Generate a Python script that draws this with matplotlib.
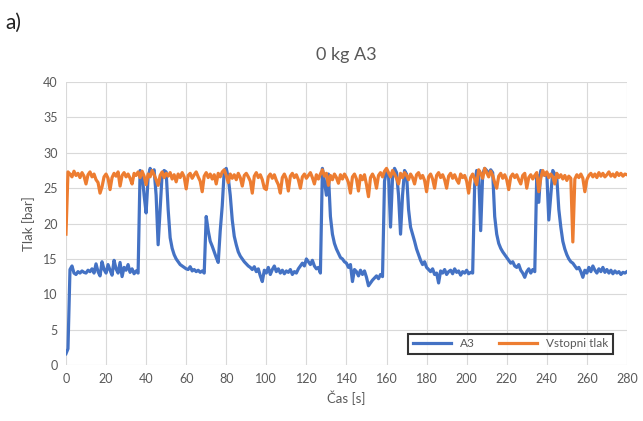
import numpy as np
import matplotlib
matplotlib.use("Agg")
import matplotlib.pyplot as plt

plt.rcParams["font.family"] = ["Lato", "DejaVu Sans"]

# Čas [s], vzorec vsako sekundo
cas = np.arange(0, 281)

# Tlak na A3 [bar]
tlak_a3 = [
    1.6, 2.3, 13.5, 14.0, 13.0, 12.8, 13.2, 13.0, 13.3, 13.1,
    13.0, 13.4, 13.2, 13.6, 13.0, 14.3, 13.2, 12.6, 14.6, 13.5,
    13.0, 14.2, 13.4, 12.7, 14.8, 13.6, 13.0, 14.5, 12.5, 13.8,
    13.4, 14.2, 13.1, 13.6, 12.9, 13.3, 13.0, 27.5, 27.0, 24.0,
    21.5, 26.5, 27.8, 27.2, 27.6, 24.0, 17.0, 22.0, 27.0, 27.5,
    27.3, 22.0, 18.0, 16.5, 15.6, 15.0, 14.6, 14.2, 14.0, 13.8,
    13.6, 13.5, 13.9, 13.3, 13.5, 13.2, 13.4, 13.1, 13.3, 13.0,
    21.0, 19.0, 17.5, 16.8, 16.0, 15.2, 14.5, 19.0, 22.5, 27.5,
    27.8, 26.5, 24.0, 20.5, 18.2, 17.0, 16.0, 15.4, 15.0, 14.6,
    14.3, 14.0, 13.8, 13.5, 13.9, 13.2, 13.6, 12.6, 11.8, 13.4,
    13.0, 13.8, 12.8, 13.5, 14.0, 13.2, 13.6, 13.0, 13.4, 12.9,
    13.3, 13.1, 13.5, 12.8, 13.2, 13.0, 13.6, 14.0, 14.4, 14.0,
    15.0, 14.6, 14.2, 14.8, 14.0, 13.6, 13.8, 13.0, 27.8, 26.0,
    24.0, 27.0, 21.0, 18.5, 17.2, 16.4, 15.8, 15.2, 15.0, 14.6,
    14.4, 13.8, 14.2, 11.8, 13.5, 13.2, 12.6, 13.4, 12.8, 13.3,
    12.4, 11.2, 11.6, 12.0, 12.3, 12.6, 12.2, 12.8, 12.5, 26.0,
    27.5, 27.0, 19.5, 26.5, 27.8, 27.2, 24.0, 18.5, 24.0, 27.5,
    27.0, 22.0, 19.5, 18.5, 17.5, 16.4, 15.6, 14.8, 14.2, 14.6,
    13.8, 13.5, 13.2, 13.6, 12.8, 13.0, 11.6, 13.3, 13.0, 13.5,
    12.8, 13.2, 13.4, 12.9, 13.6, 13.1, 13.3, 12.7, 13.2, 13.0,
    13.4, 12.9, 13.1, 13.0, 25.5, 27.5, 26.8, 19.0, 27.0, 27.8,
    27.5, 27.0, 27.6, 27.2, 21.0, 18.5, 17.2, 16.5, 16.0, 15.6,
    15.2, 14.8, 14.4, 14.6, 14.0, 13.8, 14.2, 13.4, 13.0, 12.4,
    13.2, 13.6, 13.0, 13.5, 13.2, 27.0, 23.0, 27.5, 27.0, 26.8,
    27.2, 20.5, 24.0, 27.5, 27.0, 26.5, 22.0, 19.5, 17.5, 16.4,
    15.6, 15.0, 14.6, 14.4, 14.0, 13.6, 13.8, 13.2, 12.4, 13.4,
    13.0, 13.8, 13.2, 14.0, 13.4, 13.0, 13.6, 13.2, 13.8, 13.1,
    13.5, 13.0, 13.4, 12.9, 13.3, 13.0, 13.2, 12.8, 13.1, 13.0,
    13.2,
]

# Vstopni tlak [bar]
vstopni_tlak = [
    18.5, 27.3, 27.0, 26.6, 27.4, 26.8, 27.1, 26.5, 27.2, 26.7,
    25.6, 26.9, 27.3, 26.6, 27.0, 26.2, 25.8, 24.3, 25.2, 26.6,
    27.0, 26.4, 24.8, 26.5, 27.1, 26.7, 27.3, 25.3, 26.8, 27.2,
    26.6, 27.0, 26.4, 25.6, 27.1, 26.8, 27.3, 26.5, 27.4, 26.7,
    25.5, 27.0, 26.6, 27.5, 26.9, 26.2, 25.4, 26.8, 27.3, 26.5,
    27.1, 26.7, 27.2, 26.3, 26.9, 25.9, 27.0, 26.5, 27.2, 26.6,
    24.9, 26.8, 27.1, 26.4, 26.9, 27.3, 26.6, 26.0, 24.5, 26.7,
    27.2, 26.5, 27.0, 26.3, 26.9, 25.6, 27.1, 26.6, 27.3, 27.6,
    26.8, 25.8, 27.0, 26.4, 26.9, 26.2, 27.1, 26.5, 25.3, 26.8,
    27.1, 26.6, 26.0, 24.3, 26.7, 27.2, 26.5, 26.9, 26.2, 25.0,
    24.8, 26.6, 27.0, 26.4, 26.9, 26.1, 25.5, 24.3, 26.5, 27.0,
    26.3, 24.6, 26.7, 27.1, 26.5, 26.9, 26.2, 25.0, 26.6, 27.0,
    26.4, 26.8, 27.2, 26.5, 25.6, 26.9, 26.3, 27.0, 27.6, 26.7,
    27.1, 25.4, 26.8, 26.2, 27.0, 26.5, 25.7, 26.9, 26.3, 27.0,
    26.5, 25.8, 24.3, 26.6, 27.0, 26.3, 24.6, 26.8, 26.2, 26.9,
    25.5, 23.8, 26.5, 27.0, 26.4, 25.0, 26.8, 27.2, 26.6, 27.4,
    27.8, 27.2, 26.6, 27.5, 27.0, 26.4, 25.6, 27.1, 26.5, 27.2,
    26.8, 26.2, 27.0, 26.5, 25.6, 26.9, 27.2, 26.4, 26.8, 26.1,
    24.5, 26.6, 27.0, 26.3, 25.0, 26.8, 27.2, 26.5, 26.9, 26.2,
    25.0, 26.7, 27.1, 26.4, 26.9, 26.2, 25.7, 27.0, 26.5, 26.8,
    26.0, 24.3, 26.5, 27.0, 26.3, 25.5, 27.6, 27.1, 26.4, 27.8,
    27.2, 26.6, 27.4, 26.8, 25.8, 25.0, 26.7, 27.1, 26.4, 26.9,
    26.2, 24.8, 26.6, 27.0, 26.5, 26.9, 26.2, 25.6, 26.8, 27.1,
    25.0, 26.5, 26.9, 26.3, 26.8, 27.2, 24.5, 26.4, 27.5, 26.8,
    27.3, 26.5, 27.0, 26.6, 25.6, 27.1, 26.5, 26.9, 26.3, 26.8,
    26.1, 26.7, 26.4, 17.4, 26.3, 26.9, 26.5, 27.0, 26.4, 24.5,
    26.2, 26.8, 27.1, 26.6, 27.0, 26.5, 27.2, 26.7, 27.1, 26.6,
    26.9, 27.3, 26.7, 27.0, 26.6, 27.2, 26.8, 27.1, 26.7, 27.0,
    26.9,
]

x_ticks = np.arange(0, 281, 20)
y_ticks = np.arange(0, 41, 5)

SIVA = "#595959"

fig = plt.figure(figsize=(6.43, 4.21), dpi=100)
ax = fig.add_axes([0.1026, 0.133, 0.8724, 0.672])

ax.plot(cas, tlak_a3, color="#4472C4", linewidth=2.3, label="A3", zorder=3)
ax.plot(cas, vstopni_tlak, color="#ED7D31", linewidth=2.3,
        label="Vstopni tlak", zorder=4)

ax.set_xlim(0, 280)
ax.set_ylim(0, 40)
ax.set_xticks(x_ticks)
ax.set_yticks(y_ticks)
ax.grid(True, color="#d9d9d9", linewidth=0.8)
ax.set_axisbelow(True)
for s in ax.spines.values():
    s.set_visible(False)
ax.tick_params(length=0, labelsize=9, colors=SIVA, pad=6)

ax.set_xlabel("Čas [s]", fontsize=9.5, color=SIVA, labelpad=4)
ax.set_ylabel("Tlak [bar]", fontsize=9.5, color=SIVA, labelpad=6)
ax.set_title("0 kg A3", fontsize=13, color=SIVA, pad=16)

leg = ax.legend(loc="center", bbox_to_anchor=(0.59, 0.025, 0.406, 0.099),
                ncol=2, fontsize=8.5, frameon=True, fancybox=False,
                handlelength=3.2, columnspacing=2.0, borderaxespad=0)
leg.get_frame().set_edgecolor("black")
leg.get_frame().set_linewidth(1.5)
for t in leg.get_texts():
    t.set_color(SIVA)

fig.text(0.008, 0.945, "a)", fontsize=15, color="#222222", va="center")

fig.savefig("out.png", dpi=100, facecolor="white")
